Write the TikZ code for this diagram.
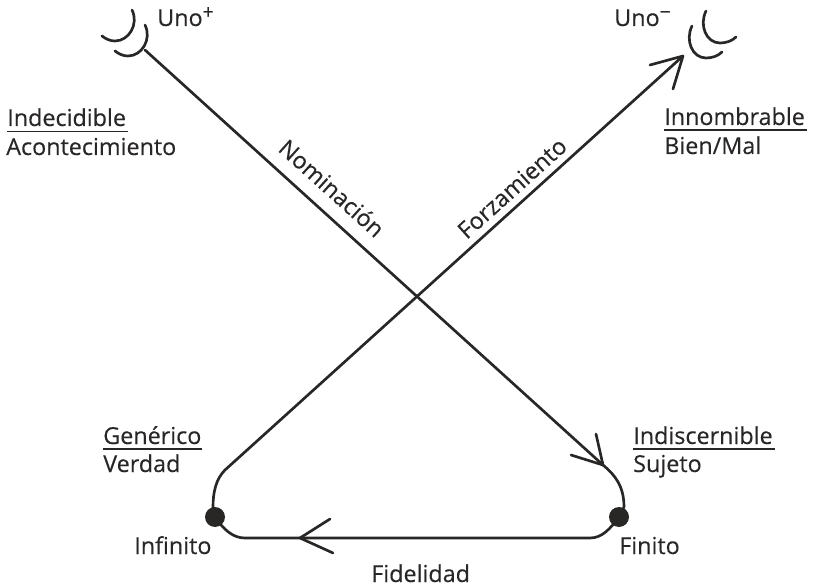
\documentclass[tikz,border=0pt]{standalone}
\usepackage{fontspec}
\setmainfont[FakeBold=0.3]{Open Sans}
\definecolor{inkline}{rgb}{0.16,0.15,0.15}
\newcommand{\supra}[1]{\raisebox{5.5pt}{\fontsize{14.5}{14.5}\selectfont #1}}
\tikzset{
  linea/.style={draw=inkline,line width=2pt,line cap=round,line join=round},
  texto/.style={anchor=base west,inner sep=0pt,text=inkline,font=\fontsize{17.5}{20}\selectfont},
  girado/.style={anchor=center,inner sep=0pt,text=inkline,font=\fontsize{17.5}{20}\selectfont},
  regla/.style={draw=inkline,line width=1pt},
  punto/.style={circle,fill=inkline,inner sep=0pt,minimum size=15pt}
}

\begin{document}
\begin{tikzpicture}[x=0.75pt,y=0.75pt,yscale=-1,xscale=1]
\useasboundingbox (0,0) rectangle (815,588);

%Shape: Arc, left pair
\draw [linea] (132,10) .. controls (139,24) and (129,41) .. (115,41) .. controls (110,41) and (106,39) .. (102,36) ;
\draw [linea, shift={(13,15)}] (132,10) .. controls (139,24) and (129,41) .. (115,41) .. controls (110,41) and (106,39) .. (102,36) ;
%Shape: Arc, right pair
\draw [linea] (706,11) .. controls (699,25) and (706,43) .. (720,43) .. controls (726,43) and (732,41) .. (736,37) ;
\draw [linea, shift={(-14,15)}] (706,11) .. controls (699,25) and (706,43) .. (720,43) .. controls (726,43) and (732,41) .. (736,37) ;

% Dots
\node [punto] (finito) at (619,517) {};
\node [punto] (infinito) at (215,517) {};

% Line ends
\coordinate (unomas) at (145,50);
\coordinate (tipsujeto) at (603,465);
\coordinate (tipverdad) at (300,538);
\coordinate (tipmenos) at (683,56);

%Straight Lines and curves
\draw [linea] (unomas) -- (tipsujeto) .. controls (615,475) and (624,486) .. (624,507) -- (finito.center) ;
\draw [linea] (finito.center) .. controls (610,529) and (602,538) .. (590,538) -- (tipverdad) ;
\draw [linea] (tipverdad) -- (245,538) .. controls (233,538) and (224,530) .. (infinito.center) ;
\draw [linea] (infinito.center) -- (213,507) .. controls (213,492) and (216,479) .. (225,470) -- (tipmenos) ;

% Arrow barbs
\draw [linea] (650,65) -- (tipmenos) -- (673,89) ;
\draw [linea] (596,434) -- (tipsujeto) -- (571,455) ;
\draw [linea] (330,519) -- (tipverdad) -- (333,553) ;

% Text Node
\node [texto] (uno1) at (157,26) {Uno\supra{+}};
% Text Node
\node [texto, anchor=base east] (uno2) at (671,26) {Uno\supra{−}};
% Text Node
\node [texto] (indecidible) at (7,126) {Indecidible};
\draw [regla] (7,131.5) -- (128,131.5) ;
% Text Node
\node [texto] (acontecimiento) at (6,155) {Acontecimiento};
% Text Node
\node [texto] (innombrable) at (664,125) {Innombrable};
\draw [regla] (664,130) -- (807,130) ;
% Text Node
\node [texto] (bienmal) at (664,154) {Bien/Mal};
% Text Node
\node [texto] (indiscernible) at (633,444) {Indiscernible};
\draw [regla] (633,449) -- (775,449) ;
% Text Node
\node [texto] (sujeto) at (633,472) {Sujeto};
% Text Node
\node [texto] (generico) at (103,444) {Genérico};
\draw [regla] (103,449) -- (202,449) ;
% Text Node
\node [texto] (verdad) at (103,472) {Verdad};
% Text Node
\node [texto] (lblinfinito) at (134,554) {Infinito};
% Text Node
\node [texto] (lblfinito) at (619,554) {Finito};
% Text Node
\node [texto] (fidelidad) at (371,582) {Fidelidad};
% Text Node
\node [girado, rotate=-42] (nominacion) at (332,188) {Nominación};
% Text Node
\node [girado, rotate=42] (forzamiento) at (512,188) {Forzamiento};

\end{tikzpicture}
\end{document}
